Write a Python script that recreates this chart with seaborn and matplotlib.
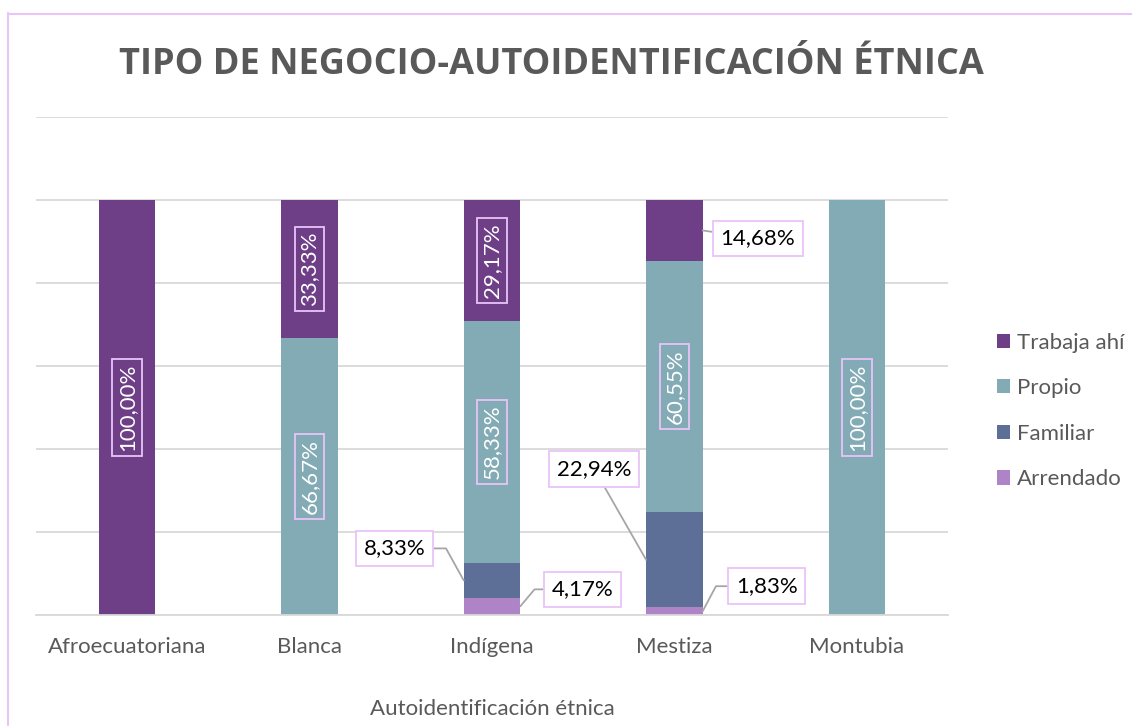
import matplotlib
matplotlib.use("Agg")
import matplotlib.pyplot as plt
import seaborn as sns
import numpy as np
import pandas as pd
from matplotlib.patches import Patch
from matplotlib.lines import Line2D

categories = ["Afroecuatoriana", "Blanca", "Indígena", "Mestiza", "Montubia"]
series_names = ["Trabaja ahí", "Propio", "Familiar", "Arrendado"]
# values in percent
trabaja = [100.00, 33.33, 29.17, 14.68, 0.0]
propio = [0.0, 66.67, 58.33, 60.55, 100.00]
familiar = [0.0, 0.0, 8.33, 22.94, 0.0]
arrendado = [0.0, 0.0, 4.17, 1.83, 0.0]

colors = {"Trabaja ahí": "#6E3F87", "Propio": "#83ABB5",
          "Familiar": "#5D6F97", "Arrendado": "#AE84C6"}
BOX_EC = "#E8C4F8"
GRAY = "#595959"
FS = 16

sns.set_theme(style="white")
plt.rcParams["font.family"] = ["Lato", "DejaVu Sans"]

fig = plt.figure(figsize=(11.32, 7.26), dpi=100)
ax = fig.add_axes([36/1132, 111/726, 912/1132, 498/726])

df = pd.DataFrame({"cat": categories, "Trabaja ahí": trabaja, "Propio": propio,
                   "Familiar": familiar, "Arrendado": arrendado})
stack_order = ["Arrendado", "Familiar", "Propio", "Trabaja ahí"]
cum = np.cumsum(np.array([df[s].values for s in stack_order]), axis=0)
W = 0.31
for i in range(len(stack_order) - 1, -1, -1):
    d = pd.DataFrame({"cat": categories, "v": cum[i]})
    sns.barplot(data=d, x="cat", y="v", color=colors[stack_order[i]], width=W,
                saturation=1, ax=ax, linewidth=0, zorder=2)

ax.set_ylim(0, 120)
ax.set_xlim(-0.5, 4.5)
ax.set_yticks(np.arange(0, 121, 20))
ax.yaxis.grid(True, color="#D9D9D9", linewidth=1.3, zorder=0)
ax.set_axisbelow(True)
ax.tick_params(axis="y", left=False, labelleft=False)
ax.tick_params(axis="x", bottom=False, labelsize=FS, labelcolor=GRAY, pad=10)
for s in ["top", "right", "left"]:
    ax.spines[s].set_visible(False)
ax.spines["bottom"].set_color("#D9D9D9")
ax.spines["bottom"].set_linewidth(1.3)
ax.set_ylabel("")
ax.set_xlabel("Autoidentificación étnica", fontsize=FS, color=GRAY, labelpad=30)

def fmt(v):
    n = int(round(v * 100))
    return f"{n // 100},{n % 100:02d}%"

bottoms = {}
b = np.zeros(len(categories))
for s in stack_order:
    bottoms[s] = b.copy()
    b = b + np.array(df[s].values)

inside = [(0, "Trabaja ahí"), (1, "Trabaja ahí"), (1, "Propio"), (2, "Trabaja ahí"),
          (2, "Propio"), (3, "Propio"), (4, "Propio")]
for ci, s in inside:
    v = df[s].values[ci]
    y = bottoms[s][ci] + v / 2
    ax.text(ci, y, fmt(v), rotation=90, ha="center", va="center", color="white",
            fontsize=FS, zorder=5,
            bbox=dict(boxstyle="square,pad=0.22", fc="none", ec=BOX_EC, lw=1.3))

outside = [
    (2, "Familiar", -1, (-69, 32), "angle,angleA=0,angleB=-61,rad=0"),
    (2, "Arrendado", 1, (62, 17), "angle,angleA=0,angleB=50,rad=0"),
    (3, "Familiar", -1, (-52, 91), "arc3,rad=0"),
    (3, "Arrendado", 1, (64, 25), "angle,angleA=0,angleB=62,rad=0"),
    (3, "Trabaja ahí", 1, (55, -8), "arc3,rad=0"),
]
for ci, s, side, off, cs in outside:
    v = df[s].values[ci]
    y = bottoms[s][ci] + v / 2
    x = ci + side * W / 2
    ax.annotate(fmt(v), xy=(x, y), xytext=off, textcoords="offset pixels",
                ha="center", va="center", fontsize=FS, color="black", zorder=6,
                bbox=dict(boxstyle="square,pad=0.35", fc="white", ec=BOX_EC, lw=1.3),
                arrowprops=dict(arrowstyle="-", color="#A6A6A6", lw=1.3,
                                connectionstyle=cs, shrinkA=0, shrinkB=0))

handles = [Patch(facecolor=colors[s], edgecolor="none", label=s) for s in series_names]
leg = ax.legend(handles=handles, loc="center left", bbox_to_anchor=(977/1132, 1 - 411/726),
                bbox_transform=fig.transFigure, frameon=False, fontsize=FS,
                handlelength=0.6, handleheight=0.6, handletextpad=0.3,
                labelspacing=1.15, labelcolor=GRAY)

fig.text(551/1132, 1 - 65/726, "TIPO DE NEGOCIO-AUTOIDENTIFICACIÓN ÉTNICA",
         ha="center", va="center", fontsize=26, fontweight="bold", color=GRAY,
         family=["Open Sans", "DejaVu Sans"])

fig.add_artist(Line2D([7.5/1132, 7.5/1132], [0, 1 - 13/726], transform=fig.transFigure,
                      color=BOX_EC, lw=1.5))
fig.add_artist(Line2D([7.5/1132, 1], [1 - 13.5/726, 1 - 13.5/726], transform=fig.transFigure,
                      color=BOX_EC, lw=1.5))

fig.savefig("out.png", dpi=100)
